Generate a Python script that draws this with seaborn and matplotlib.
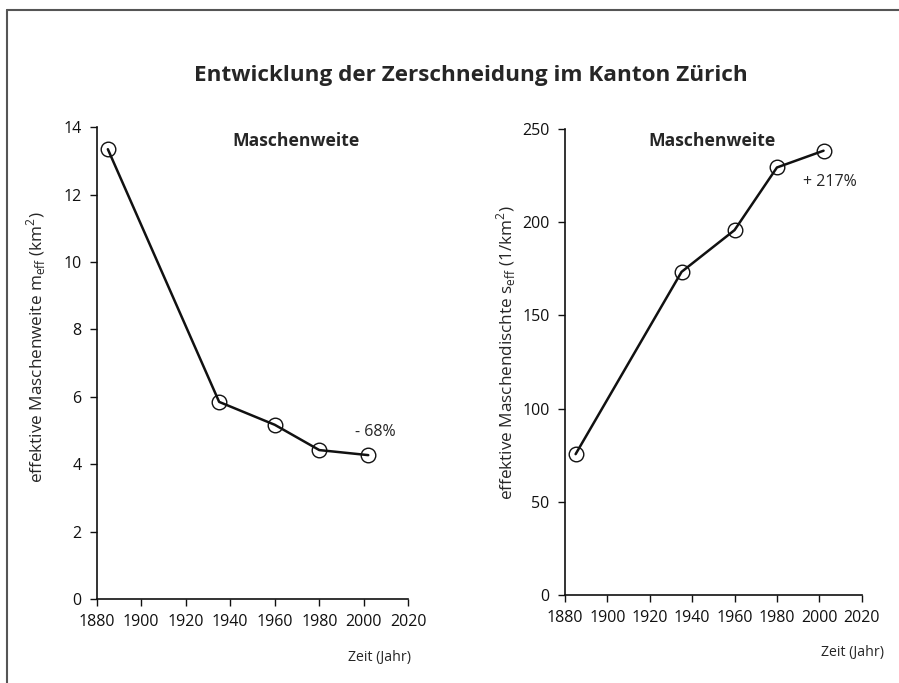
import matplotlib
matplotlib.use("Agg")
import matplotlib.pyplot as plt
from matplotlib import font_manager
from matplotlib.lines import Line2D
import seaborn as sns
import pandas as pd

years = [1885, 1935, 1960, 1980, 2002]
mesh_size = [13.35, 5.85, 5.17, 4.42, 4.27]
mesh_density = [75.6, 173.4, 195.8, 229.4, 238.4]
x_ticks = [1880, 1900, 1920, 1940, 1960, 1980, 2000, 2020]
left_yticks = [0, 2, 4, 6, 8, 10, 12, 14]
right_yticks = [0, 50, 100, 150, 200, 250]

sns.set_style("ticks")
names = {f.name for f in font_manager.fontManager.ttflist}
fam = [n for n in ["Liberation Sans Narrow", "Open Sans", "DejaVu Sans"] if n in names]
plt.rcParams['font.family'] = fam
plt.rcParams['mathtext.fontset'] = 'custom'
plt.rcParams['mathtext.rm'] = fam[0]

df1 = pd.DataFrame({"Jahr": years, "Wert": mesh_size})
df2 = pd.DataFrame({"Jahr": years, "Wert": mesh_density})

fig = plt.figure(figsize=(8.99, 6.83), dpi=100)
ax1 = fig.add_axes([0.1076, 0.123, 0.3466, 0.6906])
ax2 = fig.add_axes([0.6285, 0.1288, 0.330, 0.6822])

setup = [
    (ax1, df1, left_yticks, r"effektive Maschenweite m$_\mathregular{eff}$ (km$^\mathregular{2}$)",
     (-0.156, 0.534), (0.64, 0.971), (1.01, -0.108)),
    (ax2, df2, right_yticks, r"effektive Maschendischte s$_\mathregular{eff}$ (1/km$^\mathregular{2}$)",
     (-0.158, 0.52), (0.497, 0.974), (1.075, -0.108)),
]
for ax, df, yt, ylab, lab_xy, title_xy, xlab_xy in setup:
    sns.lineplot(data=df, x="Jahr", y="Wert", ax=ax, color="#111111", linewidth=1.8,
                 marker="o", markersize=10.5, markerfacecolor="none",
                 markeredgecolor="#111111", markeredgewidth=1.0)
    ax.set_xlim(1880, 2020)
    ax.set_ylim(yt[0], yt[-1])
    ax.set_xticks(x_ticks)
    ax.set_yticks(yt)
    ax.tick_params(direction="out", length=5, width=1, labelsize=11.5, colors="#111111", pad=6)
    for s in ["top", "right"]:
        ax.spines[s].set_visible(False)
    for s in ["left", "bottom"]:
        ax.spines[s].set_linewidth(1.2)
        ax.spines[s].set_color("#111111")
    ax.set_ylabel(ylab, fontsize=12.3)
    ax.yaxis.set_label_coords(*lab_xy)
    ax.set_xlabel("")
    ax.text(xlab_xy[0], xlab_xy[1], "Zeit (Jahr)", transform=ax.transAxes, ha="right", va="top",
            fontsize=10.2)
    ax.text(title_xy[0], title_xy[1], "Maschenweite", transform=ax.transAxes, ha="center",
            va="center", fontsize=12.6, fontweight="bold")

ax1.text(2005, 4.95, "- 68%", ha="center", va="center", fontsize=11.5)
ax2.text(2005, 221.6, "+ 217%", ha="center", va="center", fontsize=11.5)

fig.text(0.524, 0.889, "Entwicklung der Zerschneidung im Kanton Zürich", ha="center", va="center",
         fontsize=16.2, fontweight="bold")

fig.add_artist(Line2D([0.0075, 0.0075], [0.0, 0.985], transform=fig.transFigure, color="#555555", lw=1.5))
fig.add_artist(Line2D([0.0075, 1.0], [0.985, 0.985], transform=fig.transFigure, color="#555555", lw=1.5))

fig.savefig("out.png", dpi=100)
